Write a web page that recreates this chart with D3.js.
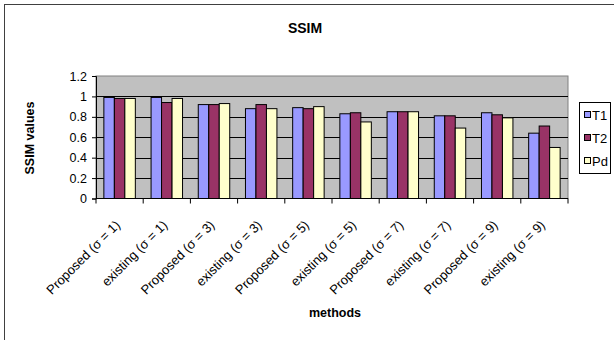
<!DOCTYPE html>
<html>
<head>
<meta charset="utf-8">
<script src="https://cdn.jsdelivr.net/npm/d3@7"></script>
<style>
  html, body { margin: 0; padding: 0; background: #fff; }
  svg { display: block; font-family: "Liberation Sans", Arial, sans-serif; }
</style>
</head>
<body>
<svg id="chart" width="614" height="340"></svg>
<script>
// SSIM scores for each method and noise level
const categories = [
  "Proposed (\u03c3 = 1)", "existing (\u03c3 = 1)",
  "Proposed (\u03c3 = 3)", "existing (\u03c3 = 3)",
  "Proposed (\u03c3 = 5)", "existing (\u03c3 = 5)",
  "Proposed (\u03c3 = 7)", "existing (\u03c3 = 7)",
  "Proposed (\u03c3 = 9)", "existing (\u03c3 = 9)"
];
const seriesNames = ["T1", "T2", "Pd"];
const t1Values = [0.99, 0.99, 0.92, 0.88, 0.89, 0.83, 0.85, 0.81, 0.84, 0.64];
const t2Values = [0.98, 0.94, 0.92, 0.92, 0.88, 0.84, 0.85, 0.81, 0.82, 0.71];
const pdValues = [0.98, 0.98, 0.93, 0.88, 0.90, 0.75, 0.85, 0.69, 0.79, 0.50];
const yTicks = [0, 0.2, 0.4, 0.6, 0.8, 1, 1.2];
const seriesColors = ["#9999FF", "#993366", "#FFFFCC"];

const series = [t1Values, t2Values, pdValues];
const svg = d3.select("#chart");

// outer chart frame (right and bottom edges fall outside the page)
svg.append("rect")
  .attr("x", 4.5).attr("y", 4.5)
  .attr("width", 640).attr("height", 360)
  .attr("fill", "none").attr("stroke", "#404040").attr("stroke-width", 1);

const plot = { left: 96, right: 568, top: 76, bottom: 198.5 };

const x = d3.scaleBand()
  .domain(categories)
  .range([plot.left, plot.right])
  .paddingInner(0).paddingOuter(0);

const y = d3.scaleLinear().domain([0, 1.2]).range([plot.bottom, plot.top]);

// bar positions within a category: gap width 150% of a bar
const inner = d3.scaleBand()
  .domain(seriesNames)
  .range([0, x.bandwidth()])
  .paddingOuter(0.75).paddingInner(0);

// plot background
svg.append("rect")
  .attr("x", plot.left).attr("y", plot.top)
  .attr("width", plot.right - plot.left).attr("height", plot.bottom - plot.top)
  .attr("fill", "#C0C0C0").attr("stroke", "#808080").attr("stroke-width", 1);

// horizontal grid
svg.append("g")
  .selectAll("line")
  .data(yTicks.filter(t => t > 0 && t < 1.2))
  .join("line")
  .attr("x1", plot.left).attr("x2", plot.right)
  .attr("y1", d => Math.round(y(d)) + 0.5).attr("y2", d => Math.round(y(d)) + 0.5)
  .attr("stroke", "#000").attr("stroke-width", 1);

// bars
const groups = svg.append("g")
  .selectAll("g")
  .data(categories)
  .join("g")
  .attr("transform", d => `translate(${x(d)},0)`);

groups.selectAll("rect")
  .data((d, i) => seriesNames.map((s, k) => ({ s, k, v: series[k][i] })))
  .join("rect")
  .attr("x", d => inner(d.s))
  .attr("y", d => y(d.v))
  .attr("width", inner.bandwidth())
  .attr("height", d => y(0) - y(d.v))
  .attr("fill", d => seriesColors[d.k])
  .attr("stroke", "#000").attr("stroke-width", 1);

// y axis
const yAxis = svg.append("g")
  .attr("transform", `translate(${plot.left},0)`)
  .call(d3.axisLeft(y).tickValues(yTicks).tickSize(4).tickPadding(5)
    .tickFormat(d => d3.format("")(+d.toFixed(1))));
yAxis.select(".domain").attr("stroke", "#000");
yAxis.selectAll("text").attr("font-size", 12.5).attr("fill", "#000")
  .attr("font-family", "Liberation Sans, Arial, sans-serif");

// x axis with ticks at category boundaries
const xAxisG = svg.append("g").attr("transform", `translate(0,${plot.bottom})`);
xAxisG.append("line")
  .attr("x1", plot.left).attr("x2", plot.right)
  .attr("stroke", "#000");
const boundaries = categories.map(c => x(c)).concat([plot.right]);
xAxisG.selectAll("line.tk")
  .data(boundaries)
  .join("line").attr("class", "tk")
  .attr("x1", d => d).attr("x2", d => d)
  .attr("y1", 0).attr("y2", 5)
  .attr("stroke", "#000");

// rotated category labels
xAxisG.selectAll("text.cat")
  .data(categories)
  .join("text").attr("class", "cat")
  .attr("transform", d => `translate(${x(d) + x.bandwidth() / 2 - 5},${21}) rotate(-45)`)
  .attr("text-anchor", "end")
  .attr("dy", "0.7em")
  .attr("font-size", 13)
  .attr("fill", "#000")
  .text(d => d);

// title and axis titles
svg.append("text")
  .attr("x", 305).attr("y", 33)
  .attr("text-anchor", "middle")
  .attr("font-size", 14).attr("font-weight", "bold")
  .text("SSIM");

svg.append("text")
  .attr("x", 335).attr("y", 317)
  .attr("text-anchor", "middle")
  .attr("font-size", 12.5).attr("font-weight", "bold")
  .text("methods");

svg.append("text")
  .attr("transform", "translate(34,138) rotate(-90)")
  .attr("text-anchor", "middle")
  .attr("font-size", 12.5).attr("font-weight", "bold")
  .text("SSIM values");

// legend
const legend = svg.append("g").attr("transform", "translate(579,102)");
legend.append("rect")
  .attr("x", 0.5).attr("y", 0.5).attr("width", 31).attr("height", 71)
  .attr("fill", "#fff").attr("stroke", "#000").attr("stroke-width", 1);
const items = legend.selectAll("g.item")
  .data(seriesNames)
  .join("g").attr("class", "item")
  .attr("transform", (d, i) => `translate(5,${13 + i * 23})`);
items.append("rect")
  .attr("x", 0.5).attr("y", -3.5).attr("width", 6).attr("height", 6)
  .attr("fill", (d, i) => seriesColors[i]).attr("stroke", "#000");
items.append("text")
  .attr("x", 8).attr("y", 0).attr("dy", "0.35em")
  .attr("font-size", 13)
  .text(d => d);
</script>
</body>
</html>
